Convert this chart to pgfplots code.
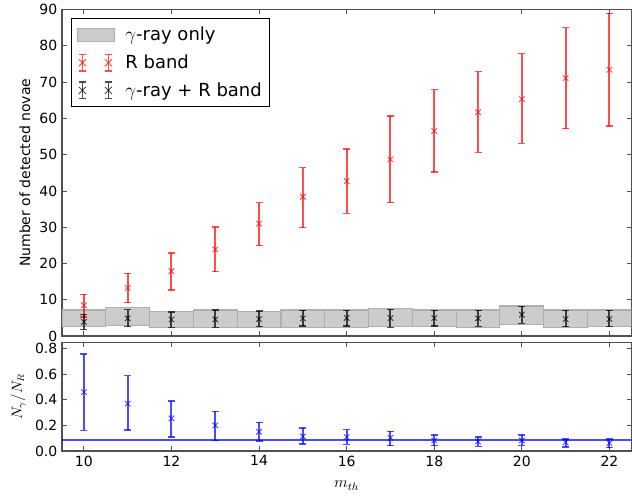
\documentclass[border=0pt]{standalone}
\usepackage{fontspec}
\setmainfont{DejaVu Sans}
\usepackage{pgfplots}
\pgfplotsset{compat=1.18}
\usepackage{pgfplotstable}

\definecolor{gbar}{RGB}{204,204,204}
\definecolor{gedge}{RGB}{175,175,175}
\definecolor{spine}{RGB}{80,80,80}

\pgfplotstableread{
x y ep em
10 8.5 3.0 3.2
11 13.3 4.0 4.1
12 17.9 5.0 5.2
13 23.9 6.2 6.1
14 31.0 5.8 6.1
15 38.4 8.0 8.5
16 42.7 8.8 8.9
17 48.7 12.0 11.9
18 56.5 11.4 11.3
19 61.7 11.2 11.1
20 65.3 12.5 12.2
21 71.1 13.9 13.9
22 73.4 15.5 15.5
}\redtab

\pgfplotstableread{
x y ep em
10 3.9 2.1 2.1
11 4.9 2.4 2.3
12 4.6 2.1 2.2
13 4.6 2.6 2.2
14 4.7 2.2 2.1
15 4.9 2.2 2.1
16 5.0 2.1 2.2
17 5.0 2.4 2.6
18 5.0 2.1 2.2
19 4.9 2.2 2.2
20 5.9 2.3 2.4
21 4.7 2.4 2.1
22 4.7 2.4 2.1
}\blacktab

\pgfplotstableread{
x y ep em
10 0.460 0.300 0.300
11 0.370 0.220 0.206
12 0.255 0.135 0.145
13 0.200 0.110 0.118
14 0.150 0.073 0.073
15 0.113 0.067 0.057
16 0.108 0.059 0.057
17 0.103 0.051 0.062
18 0.082 0.041 0.041
19 0.074 0.034 0.038
20 0.082 0.041 0.038
21 0.067 0.025 0.036
22 0.062 0.030 0.036
}\ratiotab

\newcommand{\errleg}[1]{%
  \path[draw=none, fill=none] (0pt,-7pt) rectangle (34pt,7pt);
  \foreach \xx in {3.75pt,23.25pt}{%
    \draw[#1, line width=1.1pt] (\xx,-6.2pt) -- (\xx,6.2pt)
      (\xx-2.5pt,-6.2pt) -- (\xx+2.5pt,-6.2pt) (\xx-2.5pt,6.2pt) -- (\xx+2.5pt,6.2pt);
    \draw[#1, line width=0.7pt] (\xx-2.7pt,-2.7pt) -- (\xx+2.7pt,2.7pt)
      (\xx-2.7pt,2.7pt) -- (\xx+2.7pt,-2.7pt);
  }}

\pgfplotsset{
  common/.style={
    scale only axis, width=427pt,
    xmin=9.5, xmax=22.5, xtick={10,12,...,22},
    tick align=inside, major tick length=3.5pt,
    axis line style={spine, line width=1pt},
    tick style={spine, line width=0.6pt},
    ticklabel style={font=\fontsize{10.5}{12}\selectfont},
    label style={font=\fontsize{10.5}{12}\selectfont},
    /pgf/number format/assume math mode=true,
  },
  ebar/.style={
    only marks, mark=x, mark size=2.9pt, color=#1, opacity=0.7,
    mark options={line width=0.7pt},
    error bars/.cd, y dir=both, y explicit,
    error bar style={line width=1.5pt},
    error mark options={rotate=90, mark size=2.6pt, line width=1.1pt},
  },
}

\begin{document}
\begin{tikzpicture}
\useasboundingbox (-46.5pt,7.1pt) rectangle (427.5pt,-368.6pt);
\begin{axis}[common,
  at={(0pt,0pt)}, anchor=north west,
  height=245pt, ymin=0, ymax=90, ytick={0,10,...,90},
  xticklabels={},
  ylabel={Number of detected novae},
  legend cell align=left,
  legend style={at={(0,1)}, anchor=north west, xshift=6.75pt, yshift=-6.4pt,
    draw=black, line width=0.8pt, font=\fontsize{13.5}{16}\selectfont,
    inner xsep=4pt, inner ysep=4.5pt, row sep=5pt},
]
\addplot[fill=gbar, draw=gedge, line width=0.8pt, forget plot] coordinates {(9.5,2.6) (10.5,2.6) (10.5,7.2) (9.5,7.2)} -- cycle;
\addplot[fill=gbar, draw=gedge, line width=0.8pt, forget plot] coordinates {(10.5,3.0) (11.5,3.0) (11.5,7.9) (10.5,7.9)} -- cycle;
\addplot[fill=gbar, draw=gedge, line width=0.8pt, forget plot] coordinates {(11.5,2.3) (12.5,2.3) (12.5,6.8) (11.5,6.8)} -- cycle;
\addplot[fill=gbar, draw=gedge, line width=0.8pt, forget plot] coordinates {(12.5,2.3) (13.5,2.3) (13.5,7.2) (12.5,7.2)} -- cycle;
\addplot[fill=gbar, draw=gedge, line width=0.8pt, forget plot] coordinates {(13.5,2.5) (14.5,2.5) (14.5,6.9) (13.5,6.9)} -- cycle;
\addplot[fill=gbar, draw=gedge, line width=0.8pt, forget plot] coordinates {(14.5,2.5) (15.5,2.5) (15.5,7.2) (14.5,7.2)} -- cycle;
\addplot[fill=gbar, draw=gedge, line width=0.8pt, forget plot] coordinates {(15.5,2.4) (16.5,2.4) (16.5,7.2) (15.5,7.2)} -- cycle;
\addplot[fill=gbar, draw=gedge, line width=0.8pt, forget plot] coordinates {(16.5,2.6) (17.5,2.6) (17.5,7.5) (16.5,7.5)} -- cycle;
\addplot[fill=gbar, draw=gedge, line width=0.8pt, forget plot] coordinates {(17.5,2.6) (18.5,2.6) (18.5,7.2) (17.5,7.2)} -- cycle;
\addplot[fill=gbar, draw=gedge, line width=0.8pt, forget plot] coordinates {(18.5,2.4) (19.5,2.4) (19.5,7.2) (18.5,7.2)} -- cycle;
\addplot[fill=gbar, draw=gedge, line width=0.8pt, forget plot] coordinates {(19.5,3.1) (20.5,3.1) (20.5,8.3) (19.5,8.3)} -- cycle;
\addplot[fill=gbar, draw=gedge, line width=0.8pt, forget plot] coordinates {(20.5,2.4) (21.5,2.4) (21.5,7.2) (20.5,7.2)} -- cycle;
\addplot[fill=gbar, draw=gedge, line width=0.8pt, forget plot] coordinates {(21.5,2.6) (22.5,2.6) (22.5,7.2) (21.5,7.2)} -- cycle;
\addlegendimage{legend image code/.code={\path[draw=none, fill=none] (0pt,-7pt) rectangle (34pt,7pt); \draw[fill=gbar, draw=gedge, line width=0.8pt] (0pt,-5pt) rectangle (27.75pt,5pt);}}
\addlegendentry{$\gamma$-ray only}
\addplot[legend image code/.code={\errleg{red}}, ebar=red]
  table[x=x, y=y, y error plus=ep, y error minus=em] {\redtab};
\addlegendentry{R band}
\addplot[legend image code/.code={\errleg{black}}, ebar=black]
  table[x=x, y=y, y error plus=ep, y error minus=em] {\blacktab};
\addlegendentry{$\gamma$-ray + R band}
\end{axis}

\begin{axis}[common,
  at={(0pt,-249.6pt)}, anchor=north west,
  height=81.5pt, ymin=0, ymax=0.85, ytick={0,0.2,...,0.8},
  yticklabel style={/pgf/number format/.cd, fixed, fixed zerofill, precision=1},
  ylabel={$N_\gamma/N_R$},
  xlabel={$m_{th}$},
  xlabel style={font=\fontsize{12}{14}\selectfont, yshift=-4pt},
]
\addplot[blue, opacity=0.7, line width=1.1pt] coordinates {(9.5,0.085) (22.5,0.085)};
\addplot[ebar=blue] table[x=x, y=y, y error plus=ep, y error minus=em] {\ratiotab};
\end{axis}
\end{tikzpicture}
\end{document}
